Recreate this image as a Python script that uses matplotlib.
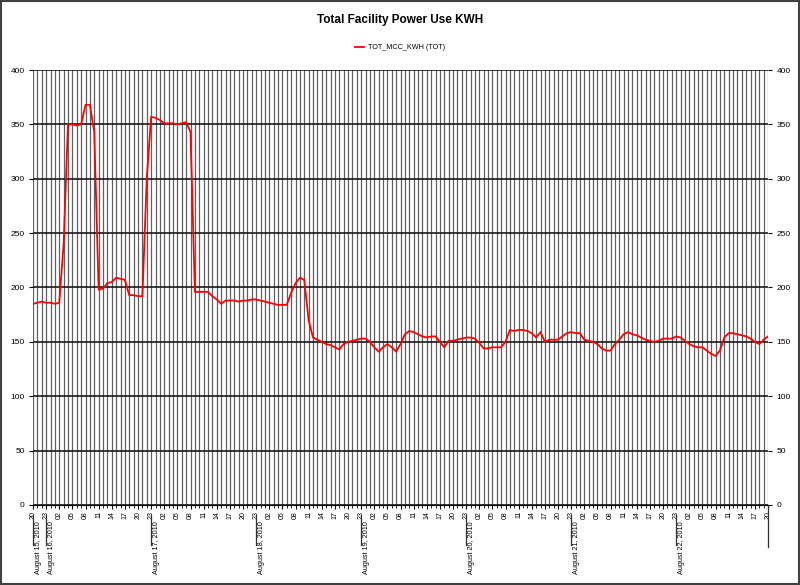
import matplotlib
matplotlib.use("Agg")
import matplotlib.pyplot as plt
from matplotlib.patches import Rectangle

plt.rcParams['font.family'] = ['Liberation Sans', 'DejaVu Sans']

# hourly readings, Aug 15 20:00 onwards
kwh = [
    185, 186, 187, 186, 186, 185, 186, 240, 350, 350,
    349, 350, 368, 368, 343, 198, 199, 204, 205, 209,
    208, 207, 193, 193, 192, 192, 300, 357, 356, 354,
    351, 351, 351, 350, 351, 352, 343, 196, 196, 196,
    196, 192, 189, 185, 188, 188, 188, 187, 188, 188,
    189, 189, 188, 187, 186, 185, 184, 184, 184, 195,
    204, 209, 207, 170, 154, 152, 150, 148, 147, 145,
    143, 148, 150, 151, 152, 153, 153, 150, 145, 141,
    145, 148, 145, 141, 148, 157, 160, 159, 157, 155,
    154, 155, 155, 150, 145, 151, 151, 152, 153, 154,
    154, 153, 149, 144, 144, 145, 145, 145, 150, 161,
    160, 161, 161, 160, 158, 154, 159, 150, 152, 152,
    152, 155, 158, 159, 158, 158, 152, 151, 150, 148,
    144, 142, 142, 148, 152, 157, 159, 157, 156, 154,
    152, 151, 150, 151, 153, 153, 153, 155, 154, 151,
    148, 146, 145, 145, 142, 139, 137, 142, 154, 158,
    158, 157, 156, 155, 153, 150, 148, 152, 155,
]
hour_labels = ["20", "23", "02", "05", "08", "11", "14", "17"]
date_labels = ["August 15, 2010", "August 16, 2010", "August 17, 2010",
               "August 18, 2010", "August 19, 2010", "August 20, 2010",
               "August 21, 2010", "August 22, 2010"]
date_pos = [0, 3, 27, 51, 75, 99, 123, 147]
yticks = [0, 50, 100, 150, 200, 250, 300, 350, 400]

fig = plt.figure(figsize=(8, 5.85), dpi=100)
ax = fig.add_axes([0.04125, 0.1368, 0.91875, 0.7435])

n = len(kwh)
hours = list(range(n))

# hourly vertical grid + 50 kWh horizontal grid
for h in hours:
    ax.axvline(h, color="#606060", lw=0.9, zorder=1)
for v in yticks:
    ax.axhline(v, color="#1a1a1a", lw=1.2, zorder=1)

ax.plot(hours, kwh, color="#ff0000", lw=1.3, zorder=3, label="TOT_MCC_KWH (TOT)")

ax.set_xlim(0, n - 1)
ax.set_ylim(0, 400)
ax.set_yticks(yticks)
ax.tick_params(axis="y", labelsize=6, length=3, left=True, right=True,
               labelleft=True, labelright=True, pad=3)

xt = list(range(0, n, 3))
ax.set_xticks(xt)
ax.set_xticklabels([hour_labels[k % len(hour_labels)] for k in range(len(xt))],
                   rotation=90, fontsize=5)
ax.set_xticks(hours, minor=True)
ax.tick_params(axis="x", which="major", length=3, pad=1.5)
ax.tick_params(axis="x", which="minor", length=2)

for s in ["top", "right", "left"]:
    ax.spines[s].set_visible(False)
ax.spines["bottom"].set_color("black")

tr = ax.get_xaxis_transform()
for pos, lab in zip(date_pos, date_labels):
    ax.text(pos + 0.35, -0.037, lab, transform=tr, rotation=90,
            ha="left", va="top", fontsize=5.2)
    ax.plot([pos, pos], [-0.023, -0.092], transform=tr, color="#303030",
            lw=0.9, clip_on=False)
ax.plot([n - 1, n - 1], [0, -0.097], transform=tr, color="#303030",
        lw=0.9, clip_on=False)

fig.text(0.5, 0.965, "Total Facility Power Use KWH", ha="center", va="center",
         fontsize=8.5, fontweight="bold")
fig.legend(loc="center", bbox_to_anchor=(0.5, 0.918), frameon=False,
           fontsize=5.2, handlelength=1.3, handletextpad=0.6)

fig.add_artist(Rectangle((0.001, 0.001), 0.998, 0.998, transform=fig.transFigure,
                         fill=False, edgecolor="#404040", lw=1.5))

fig.savefig("out.png", dpi=100, facecolor="white")
